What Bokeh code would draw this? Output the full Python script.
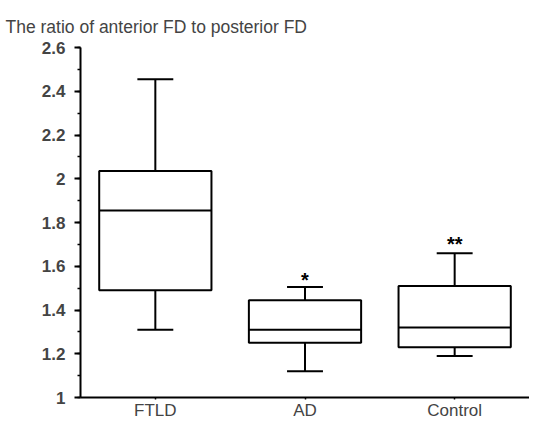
from bokeh.plotting import figure
from bokeh.models import ColumnDataSource, FactorRange, Range1d, SingleIntervalTicker
from bokeh.transform import dodge
from bokeh.core.properties import value
from bokeh.embed import file_html
from bokeh.resources import INLINE

categories = ["FTLD", "AD", "Control"]
lower = [1.31, 1.12, 1.19]
q1 = [1.49, 1.25, 1.23]
median = [1.855, 1.31, 1.32]
q3 = [2.035, 1.445, 1.51]
upper = [2.455, 1.505, 1.66]
sig_labels = ["", "*", "**"]
sig_y = [2.6, 1.545, 1.71]

FONT = "Liberation Sans"

p = figure(width=529, height=422, x_range=FactorRange(*categories, range_padding=0),
           y_range=Range1d(1, 2.6), output_backend="svg", toolbar_location=None,
           min_border_left=80, min_border_right=0, min_border_top=47, min_border_bottom=20)
p.outline_line_color = None
p.grid.visible = False
p.background_fill_color = "white"
p.border_fill_color = "white"

p.title.text = "The ratio of anterior FD to posterior FD"
p.title.text_font = FONT
p.title.text_font_size = "17.5px"
p.title.text_font_style = "normal"
p.title.align = "left"
p.title.offset = -75
p.title.standoff = 22

src = ColumnDataSource(dict(cat=categories, lower=lower, q1=q1, median=median, q3=q3,
                            upper=upper, sig=sig_labels, sig_y=sig_y))

kw = dict(line_color="black", line_width=2)
p.segment(x0="cat", y0="q3", x1="cat", y1="upper", source=src, **kw)
p.segment(x0="cat", y0="lower", x1="cat", y1="q1", source=src, **kw)
p.segment(x0=dodge("cat", -0.12, range=p.x_range), y0="upper",
          x1=dodge("cat", 0.12, range=p.x_range), y1="upper", source=src, **kw)
p.segment(x0=dodge("cat", -0.12, range=p.x_range), y0="lower",
          x1=dodge("cat", 0.12, range=p.x_range), y1="lower", source=src, **kw)
p.vbar(x="cat", width=0.75, top="q3", bottom="q1", source=src, fill_color="white", **kw)
p.segment(x0=dodge("cat", -0.375, range=p.x_range), y0="median",
          x1=dodge("cat", 0.375, range=p.x_range), y1="median", source=src, **kw)
p.text(x="cat", y="sig_y", text="sig", source=src, text_align="center", text_baseline="middle",
       y_offset=2, text_font=value(FONT), text_font_size="20px", text_font_style="bold",
       text_color="black")

yax = p.yaxis[0]
yax.ticker = SingleIntervalTicker(interval=0.2, num_minor_ticks=2)
yax.axis_line_width = 2
yax.major_tick_line_width = 2
yax.minor_tick_line_width = 1.5
yax.major_tick_out = 6
yax.major_tick_in = 0
yax.minor_tick_out = 3
yax.minor_tick_in = 0
yax.major_label_text_font = FONT
yax.major_label_text_font_size = "17px"
yax.major_label_text_font_style = "bold"
yax.major_label_standoff = 9
yax.major_label_overrides = {1.0: "1", 2.0: "2"}

xax = p.xaxis[0]
xax.axis_line_width = 2
xax.major_tick_out = 2
xax.major_tick_in = 0
xax.major_tick_line_width = 1.5
xax.major_label_text_font = FONT
xax.major_label_text_font_size = "17px"
xax.major_label_text_font_style = "normal"
xax.major_label_standoff = 1

open("out.html", "w").write(file_html(p, INLINE))
